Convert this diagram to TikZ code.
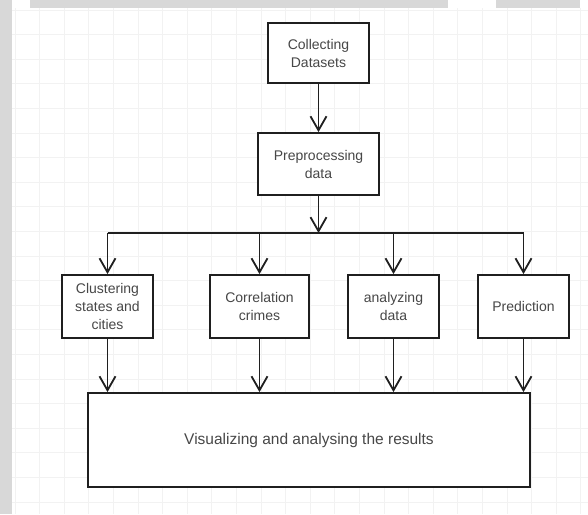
\documentclass[tikz,border=0pt]{standalone}
\usepackage{fontspec}
\setmainfont{Liberation Sans}
\usetikzlibrary{arrows.meta}
\definecolor{stripgray}{HTML}{D8D8D8}
\definecolor{inkgray}{HTML}{474747}
\begin{document}
\begin{tikzpicture}[x=1pt, y=-1pt,
  box/.style={draw=black!88, line width=1.8pt, fill=white, inner sep=0pt,
              align=center, text=inkgray, font=\fontsize{14}{18}\selectfont},
  flow/.style={draw=black!88, line width=1.8pt,
               -{Straight Barb[length=14pt, width=16pt]}},
  trunk/.style={draw=black!88, line width=1.8pt}]
  \def\g{24.6}
  \useasboundingbox (0,0) rectangle (588,514);
  % 背景网格
  \fill[white] (0,0) rectangle (588,514);
  \draw[gray!10, line width=0.8pt]
    \foreach \i in {0,...,23} { (15+\i*\g, 8) -- (15+\i*\g, 514) }
    \foreach \j in {0,...,20} { (12, 10+\j*\g) -- (588, 10+\j*\g) };
  % 灰色边条
  \fill[stripgray] (0,0) rectangle (12,514);
  \fill[stripgray] (30,0) rectangle (448,8);
  \fill[stripgray] (496,0) rectangle (580,8);
  % 上部两个框
  \node[box, minimum width=101pt, minimum height=60pt] (collect)
    at (318.5,53) {Collecting\\Datasets};
  \node[box, minimum width=121pt, minimum height=62pt] (prep)
    at (318.5,164) {Preprocessing\\data};
  % 中间四个框
  \node[box, minimum width=91pt, minimum height=63pt] (clust)
    at (107.5,306.5) {Clustering\\states and\\cities};
  \node[box, minimum width=99pt, minimum height=63pt] (corr)
    at (259.5,306.5) {Correlation\\crimes};
  \node[box, minimum width=91pt, minimum height=63pt] (analyz)
    at (393.5,306.5) {analyzing\\data};
  \node[box, minimum width=91pt, minimum height=63pt] (predict)
    at (523.5,306.5) {Prediction};
  % 底部结果框
  \node[box, minimum width=442pt, minimum height=94pt,
        font=\fontsize{15.5}{18}\selectfont] (visual)
    at (309,440) {Visualizing and analysing the results};
  % 连线
  \coordinate (split) at (318.5,233);
  \draw[flow] (collect) -- (prep);
  \draw[flow] (prep) -- (split);
  \draw[trunk] (clust.north |- split) -- (predict.north |- split);
  \foreach \n in {clust, corr, analyz, predict} {
    \draw[flow] (\n.north |- split) -- (\n);
    \draw[flow] (\n) -- (\n |- visual.north);
  }
\end{tikzpicture}
\end{document}
